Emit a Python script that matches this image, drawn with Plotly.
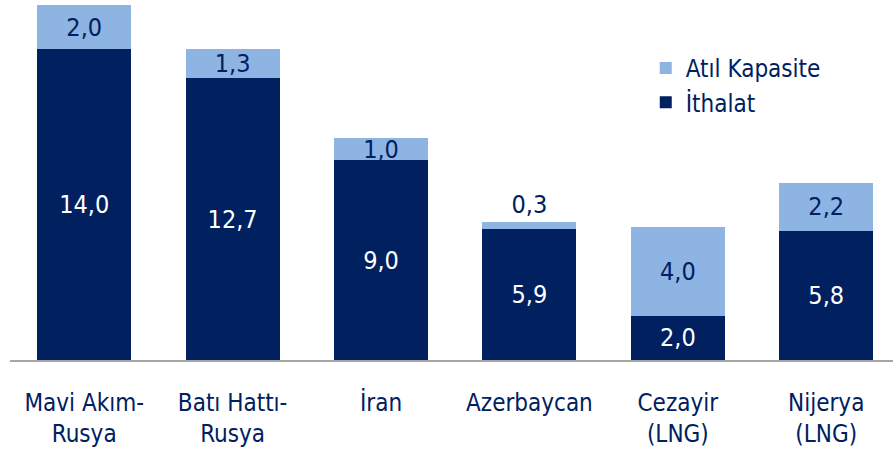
import plotly.graph_objects as go

categories = ["Mavi Akım-<br>Rusya", "Batı Hattı-<br>Rusya", "İran", "Azerbaycan", "Cezayir<br>(LNG)", "Nijerya<br>(LNG)"]
ithalat = [14.0, 12.7, 9.0, 5.9, 2.0, 5.8]
atil = [2.0, 1.3, 1.0, 0.3, 4.0, 2.2]

DARK = "#002060"
LIGHT = "#8EB4E3"
FONT = "Liberation Sans Narrow, DejaVu Sans Condensed, sans-serif"

fig = go.Figure()
fig.add_trace(go.Bar(
    x=categories, y=ithalat, name="İthalat", marker=dict(color=DARK, line=dict(width=0)),
    texttemplate="%{y:.1f}", textposition="inside", insidetextanchor="middle",
    textangle=0, constraintext="none",
    insidetextfont=dict(color="white", size=25, family=FONT),
))
atil_pos = ["outside" if v < 0.8 else "inside" for v in atil]
fig.add_trace(go.Bar(
    x=categories, y=atil, name="Atıl Kapasite", marker=dict(color=LIGHT, line=dict(width=0)),
    texttemplate="%{y:.1f}", textposition=atil_pos, insidetextanchor="middle",
    textangle=0, constraintext="none", cliponaxis=False,
    insidetextfont=dict(color=DARK, size=25, family=FONT),
    outsidetextfont=dict(color=DARK, size=25, family=FONT),
))

fig.update_layout(
    barmode="stack", bargap=0.367, separators=",.",
    width=893, height=453,
    margin=dict(l=10, r=0, t=5, b=93),
    paper_bgcolor="white", plot_bgcolor="white",
    font=dict(family=FONT, color=DARK, size=24),
    showlegend=True,
    legend=dict(traceorder="reversed", x=0.72, y=0.885, xanchor="left", yanchor="top",
                font=dict(size=24, color=DARK, family=FONT), bgcolor="rgba(0,0,0,0)"),
    xaxis=dict(showline=True, linecolor="#A6A6A6", linewidth=1.5, ticks="",
               range=[-0.5, 5.45],
               showgrid=False, tickfont=dict(size=24, color=DARK, family=FONT),
               ticklabelstandoff=20),
    yaxis=dict(range=[0, 16], visible=False, showgrid=False),
)

fig.write_html("out.html", config={"displayModeBar": False},
               post_script="document.body.style.margin='0';")
